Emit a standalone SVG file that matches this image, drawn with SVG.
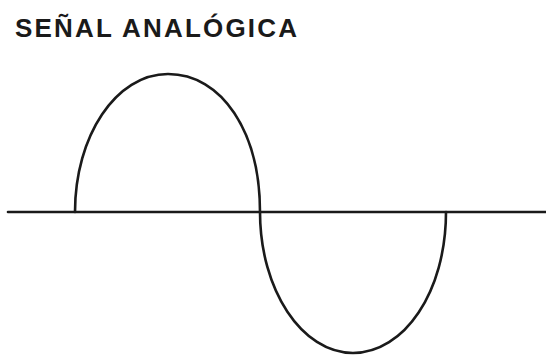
<svg xmlns="http://www.w3.org/2000/svg" width="546" height="356" viewBox="0 0 546 356">
<style>
.t{font-family:"Liberation Sans",Arial,sans-serif;font-weight:bold;font-size:26px;fill:#1a1a1a}
.ln{fill:none;stroke:#1a1a1a;stroke-width:2.6;stroke-linecap:round}
</style>
<rect width="546" height="356" fill="#fff"/>
<text class="t" x="15" y="37" textLength="282" lengthAdjust="spacing">SEÑAL ANALÓGICA</text>
<g id="axis">
<line class="ln" x1="8" y1="212" x2="546" y2="212" stroke-linecap="butt"/>
</g>
<g id="wave">
<path class="ln" d="M75,212 C75,136 116,74 168,74 C222,74 260,132 260,212 C260,290 302,353 353,353 C404,353 446,292 446,212"/>
</g>
</svg>
